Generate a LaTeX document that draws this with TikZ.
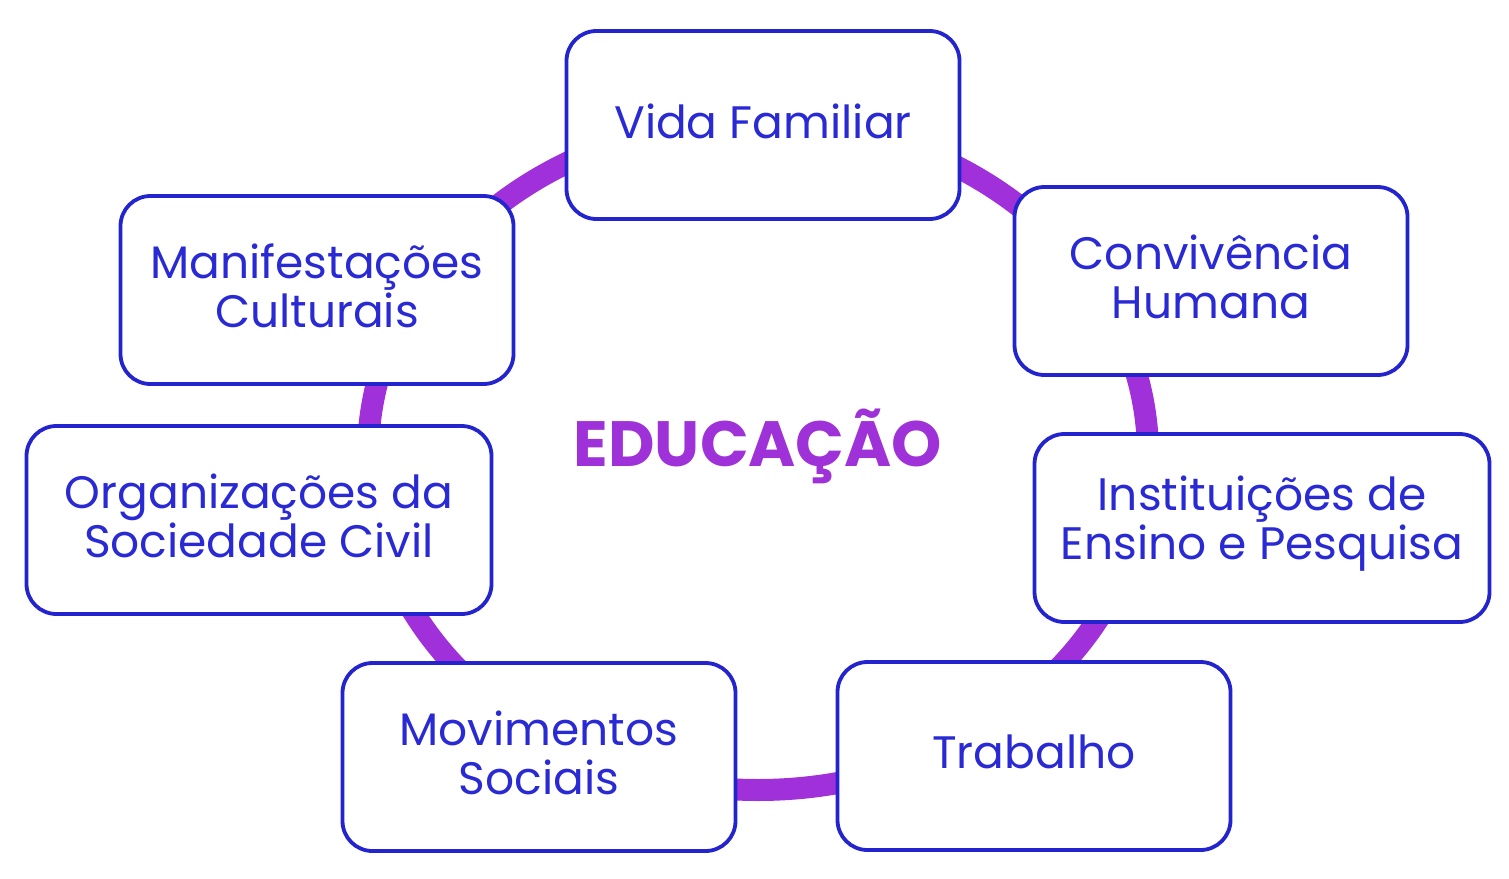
\documentclass[tikz,border=0pt]{standalone}
\usepackage{fontspec}
\setmainfont{Poppins}
\definecolor{ringpurple}{RGB}{160,48,218}
\definecolor{boxblue}{RGB}{36,36,206}
\definecolor{textblue}{RGB}{42,42,212}
\definecolor{titlepurple}{RGB}{158,50,216}
\tikzset{
  ring/.style={draw=ringpurple, line width=22pt},
  itembox/.style={draw=boxblue, line width=3.8pt, fill=white, rounded corners=30pt,
    minimum height=188pt, inner sep=0pt},
  itemtext/.style={align=center, text=textblue, yshift=4pt,
    font=\fontsize{45.5}{49}\selectfont, inner sep=0pt},
  title/.style={text=titlepurple, font=\fontsize{64}{68}\selectfont\bfseries}
}
\begin{document}
\begin{tikzpicture}[x=1pt,y=-1pt]
\useasboundingbox[fill=white] (0,0) rectangle (1509,878);
\draw[ring] (758,455) ellipse [x radius=390pt, y radius=335pt];
\node[itembox, minimum width=393pt] (vida) at (763,125) {};
\node[itembox, minimum width=393pt] (conv) at (1211,281) {};
\node[itembox, minimum width=393pt] (manif) at (317,290) {};
\node[itembox, minimum width=465pt] (org) at (259,520) {};
\node[itembox, minimum width=455pt] (inst) at (1262,528) {};
\node[itembox, minimum width=393pt] (mov) at (539,757) {};
\node[itembox, minimum width=393pt] (trab) at (1034,756) {};
\node[itemtext] (vidat) at (vida.center) {Vida Familiar};
\node[itemtext] (convt) at (conv.center) {Convivência\\Humana};
\node[itemtext] (maniftt) at (manif.center) {Manifestações\\Culturais};
\node[itemtext] (orgt) at (org.center) {Organizações da\\Sociedade Civil};
\node[itemtext] (instt) at (inst.center) {Instituições de\\Ensino e Pesquisa};
\node[itemtext] (movt) at (mov.center) {Movimentos\\Sociais};
\node[itemtext] (trabt) at (trab.center) {Trabalho};
\node[title] (edu) at (758,446) {EDUCAÇÃO};
\end{tikzpicture}
\end{document}
